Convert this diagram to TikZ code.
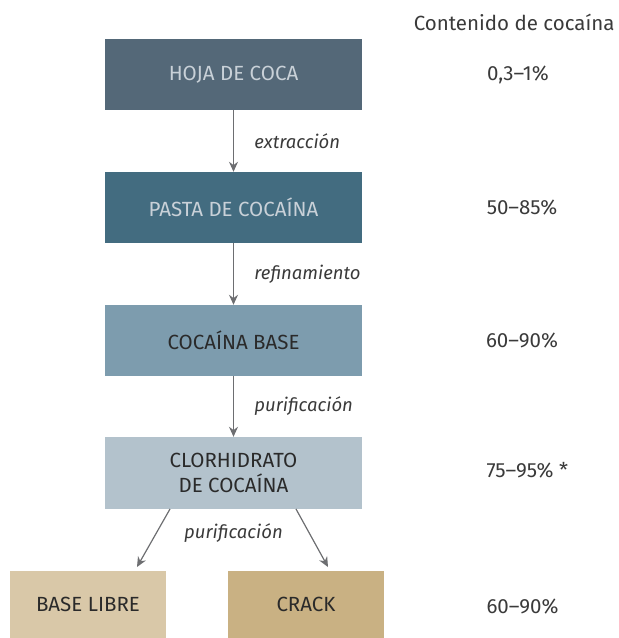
\documentclass[tikz,border=0pt]{standalone}
\usepackage{fontspec}
\setmainfont{Fira Sans}
\usetikzlibrary{arrows.meta}
\definecolor{c1}{HTML}{546878}
\definecolor{c2}{HTML}{436C80}
\definecolor{c3}{HTML}{7D9CAE}
\definecolor{c4}{HTML}{B3C2CC}
\definecolor{c5}{HTML}{D9C8A8}
\definecolor{c6}{HTML}{C9B183}
\definecolor{lighttxt}{HTML}{C9D1D8}
\definecolor{darktxt}{HTML}{2A2A2A}
\definecolor{arrowc}{HTML}{6D6E71}
\definecolor{pct}{HTML}{3A3A3A}
\tikzset{
  stage/.style={minimum width=257pt, minimum height=71pt, inner sep=0pt, font=\fontsize{20.5}{25}\selectfont, align=center},
  endbox/.style={minimum width=156pt, minimum height=67pt, inner sep=0pt, font=\fontsize{20.5}{25}\selectfont, text=darktxt},
  conn/.style={draw=arrowc, line width=1.2pt, -{Stealth[length=10pt,width=9pt]}},
  lbl/.style={font=\itshape\fontsize{18.5}{22}\selectfont, text=pct, anchor=west},
  val/.style={font=\fontsize{20.5}{25}\selectfont, text=pct},
}
\begin{document}
\begin{tikzpicture}[x=1pt,y=-1pt]
\useasboundingbox (0,0) rectangle (619,638);
\node[stage, fill=c1, text=lighttxt] (hoja) at (233.5,74.5) {HOJA DE COCA};
\node[stage, fill=c2, text=lighttxt] (pasta) at (233.5,207.5) {PASTA DE COCAÍNA};
\node[stage, fill=c3, text=darktxt] (base) at (233.5,340.5) {COCAÍNA BASE};
\node[stage, fill=c4, text=darktxt, minimum height=72pt] (clor) at (233.5,473) {CLORHIDRATO\\DE COCAÍNA};
\node[endbox, fill=c5] (libre) at (88,604.5) {BASE LIBRE};
\node[endbox, fill=c6] (crack) at (306,604.5) {CRACK};

\coordinate (l1) at (170,509);
\coordinate (l2) at (137,567);
\coordinate (r1) at (296,509);
\coordinate (r2) at (328,567);

\draw[conn] (hoja) -- (pasta) node[midway, lbl, xshift=17pt] {extracción};
\draw[conn] (pasta) -- (base) node[midway, lbl, xshift=17pt] {refinamiento};
\draw[conn] (base) -- (clor) node[midway, lbl, xshift=17pt] {purificación};
\draw[conn] (l1) -- (l2);
\draw[conn] (r1) -- (r2);
\node[font=\itshape\fontsize{18.5}{22}\selectfont, text=pct] (pur2) at (233.5,533) {purificación};

\node[val, anchor=east] (head) at (618,22) {Contenido de cocaína};
\node[val] (v1) at (518,74.5) {0,3–1\%};
\node[val] (v2) at (522,207.5) {50–85\%};
\node[val] (v3) at (522,340.5) {60–90\%};
\node[val, anchor=west] (v4) at (483,470) {75–95\% *};
\node[val, anchor=west] (v5) at (483,607) {60–90\%};
\end{tikzpicture}
\end{document}
